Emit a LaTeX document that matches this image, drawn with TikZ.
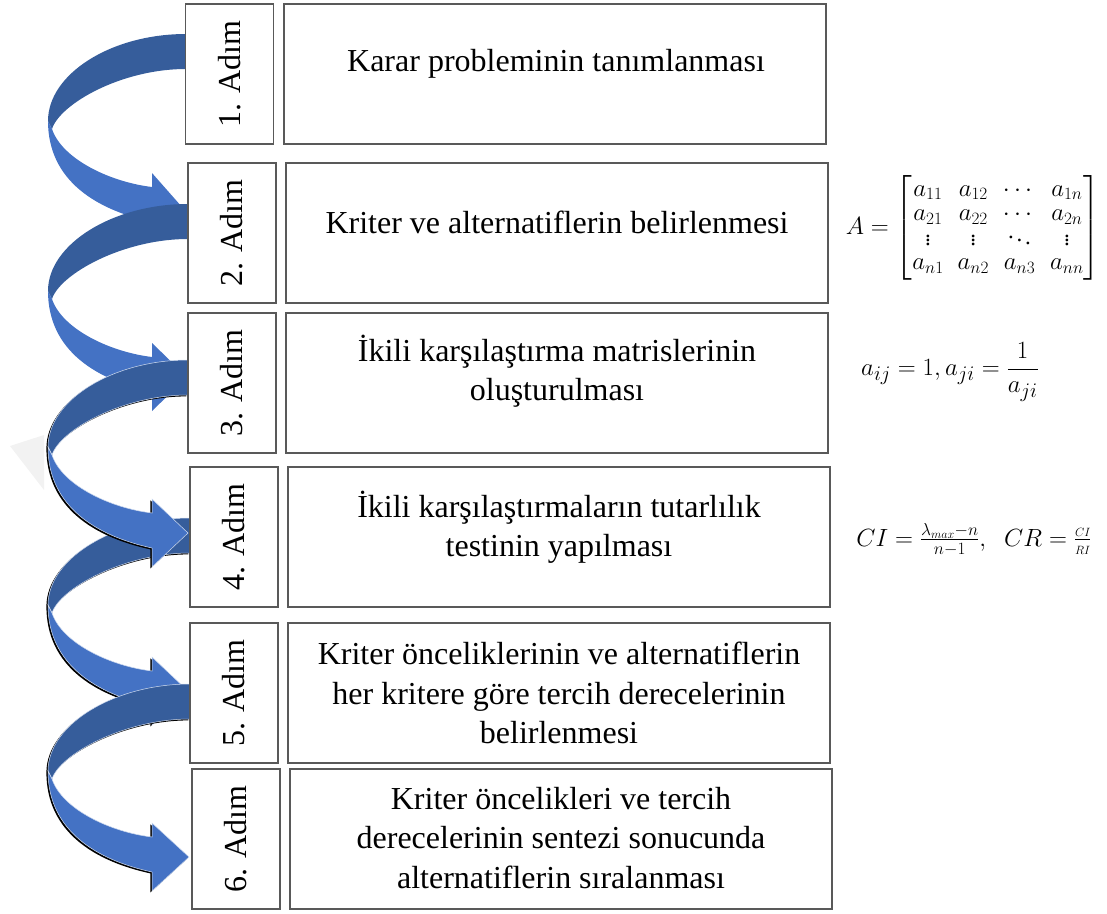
\documentclass[tikz,border=0pt]{standalone}
\usepackage{amsmath}
\usepackage{fontspec}
\setmainfont{Liberation Serif}
\definecolor{ribbondarkc}{RGB}{54,93,155}
\definecolor{ribbonlightc}{RGB}{68,114,196}
% outline of one curved ribbon arrow: #1 = top of the band at its start, #2 = start x, #3 = tip x
\newcommand\ribbonpath[3]{(#2,#1) .. controls ({#2-75},#1) and (48,{#1+40}) .. (48,{#1+87})
  .. controls (48,{#1+147}) and (97,{#1+176}) .. (152,{#1+188}) -- (152,{#1+207}) -- (#3,{#1+173})
  -- (152,{#1+139}) -- (152,{#1+153}) .. controls (110,{#1+148}) and (62,{#1+125}) .. (52,{#1+95})
  .. controls (60,{#1+70}) and ({#2-65},{#1+35}) .. (#2,{#1+35}) -- cycle}
% the ribbon itself: darker back face on top, lighter front face with the head below
\newcommand\ribbon[4][]{%
  \fill[ribbondark,#1] (#3,#2) .. controls ({#3-75},#2) and (48,{#2+40}) .. (48,{#2+87})
    -- (52,{#2+95}) .. controls (60,{#2+70}) and ({#3-65},{#2+35}) .. (#3,{#2+35}) -- cycle;
  \fill[ribbonlight,#1] (48,{#2+87}) .. controls (48,{#2+147}) and (97,{#2+176}) .. (152,{#2+188})
    -- (152,{#2+207}) -- (#4,{#2+173}) -- (152,{#2+139}) -- (152,{#2+153})
    .. controls (110,{#2+148}) and (62,{#2+125}) .. (52,{#2+95}) -- cycle;}
\newcommand\ribbonshade[3]{\fill[black,xshift=-1.6pt,yshift=-1.4pt] \ribbonpath{#1}{#2}{#3};}
\begin{document}
\begin{tikzpicture}[x=1pt,y=-1pt,
  stepbox/.style={draw=black!65, line width=1.1pt, fill=white, inner sep=0pt},
  labelbox/.style={stepbox, minimum width=88pt, minimum height=140pt},
  mainbox/.style={stepbox, minimum width=542pt, minimum height=140pt},
  labeltext/.style={rotate=90, font=\fontsize{32}{37}\selectfont, inner sep=0pt},
  maintext/.style={align=center, font=\fontsize{32}{39.5}\selectfont, inner sep=0pt},
  formula/.style={inner sep=0pt},
  ribbondark/.style={fill=ribbondarkc},
  ribbonlight/.style={fill=ribbonlightc},
  rim/.style={draw=white!75!ribbonlightc, line width=0.5pt}
]
\path[use as bounding box] (0,0) rectangle (1107,913);

% faint mark at the left margin
\fill[black!5] (10,446) -- (44,435) -- (44,490) -- cycle;

% curved ribbon arrows between the steps
\ribbon{34}{186}{182}
\ribbon{204}{188}{187}
\ribbonshade{518}{190}{188}
\ribbon[rim]{518}{190}{188}
\ribbonshade{360}{188}{188}
\ribbon[rim]{360}{188}{188}
\ribbonshade{684}{190}{189}
\ribbon[rim]{684}{190}{189}

% step boxes
\node[labelbox] (l1) at (229.5,74) {};
\node[mainbox]  (m1) at (555,74) {};
\node[labelbox] (l2) at (232,233) {};
\node[mainbox]  (m2) at (557,233) {};
\node[labelbox] (l3) at (232,383) {};
\node[mainbox]  (m3) at (557,383) {};
\node[labelbox] (l4) at (234,537) {};
\node[mainbox]  (m4) at (559,537) {};
\node[labelbox] (l5) at (234,693) {};
\node[mainbox]  (m5) at (559,693) {};
\node[labelbox] (l6) at (236,839) {};
\node[mainbox]  (m6) at (561,839) {};

% step numbers
\node[labeltext] (n1) at (l1.center) {1. Adım};
\node[labeltext] (n2) at (l2.center) {2. Adım};
\node[labeltext] (n3) at (l3.center) {3. Adım};
\node[labeltext] (n4) at (l4.center) {4. Adım};
\node[labeltext] (n5) at (l5.center) {5. Adım};
\node[labeltext] (n6) at (l6.center) {6. Adım};

% step descriptions
\node[maintext] (t1) at (556,64) {Karar probleminin tanımlanması};
\node[maintext] (t2) at (557,222) {Kriter ve alternatiflerin belirlenmesi};
\node[maintext] (t3) at (557,371) {İkili karşılaştırma matrislerinin\\oluşturulması};
\node[maintext] (t4) at (559,527) {İkili karşılaştırmaların tutarlılık\\testinin yapılması};
\node[maintext] (t5) at (559,693) {Kriter önceliklerinin ve alternatiflerin\\her kritere göre tercih derecelerinin\\belirlenmesi};
\node[maintext] (t6) at (561,838) {Kriter öncelikleri ve tercih\\derecelerinin sentezi sonucunda\\alternatiflerin sıralanması};

% formulas
\node[formula, font=\fontsize{23}{24.5}\selectfont] (f1) at (973,228)
  {\setlength{\arraycolsep}{7pt}%
   $A=\begin{bmatrix} a_{11} & a_{12} & \cdots & a_{1n}\\ a_{21} & a_{22} & \cdots & a_{2n}\\ \vdots & \vdots & \ddots & \vdots\\ a_{n1} & a_{n2} & a_{n3} & a_{nn}\end{bmatrix}$};
\node[formula, font=\fontsize{28}{33}\selectfont] (f2) at (950,372)
  {$a_{ij}=1, a_{ji}=\dfrac{1}{a_{ji}}$};
\node[formula, font=\fontsize{25}{30}\selectfont] (f3) at (974,540)
  {$CI=\frac{\lambda_{max}-n}{n-1},\;\; CR=\frac{\scriptscriptstyle CI}{\scriptscriptstyle RI}$};
\end{tikzpicture}
\end{document}
